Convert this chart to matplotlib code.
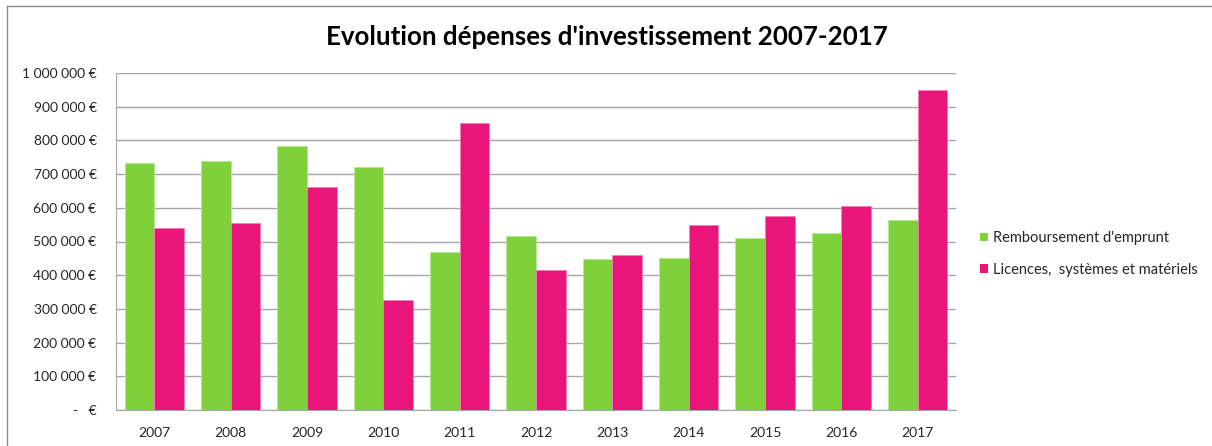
import matplotlib
matplotlib.use("Agg")
import matplotlib.pyplot as plt
import numpy as np
from matplotlib.lines import Line2D
from matplotlib.patches import Patch

years = ["2007", "2008", "2009", "2010", "2011", "2012", "2013", "2014", "2015", "2016", "2017"]
remboursement = [734000, 738000, 782000, 720000, 468000, 515000, 447000, 452000, 509000, 524000, 565000]
licences = [540000, 554000, 661000, 326000, 851000, 415000, 461000, 548000, 575000, 604000, 951000]
series_names = ["Remboursement d'emprunt", "Licences,  systèmes et matériels"]
title = "Evolution dépenses d'investissement 2007-2017"
yticks = [0, 100000, 200000, 300000, 400000, 500000, 600000, 700000, 800000, 900000, 1000000]

GREEN = "#7FD13B"
PINK = "#EA157A"
GRID = "#A6A6A6"
TXT = "#262626"

plt.rcParams['font.family'] = ['Lato', 'DejaVu Sans']

W, H = 1212, 446
fig = plt.figure(figsize=(W / 100, H / 100), dpi=100)

# chart border (left + top visible)
fig.add_artist(Line2D([7 / W, 7 / W], [0, 1 - 6 / H], transform=fig.transFigure, color="#8C8C8C", lw=1))
fig.add_artist(Line2D([7 / W, 1], [1 - 6 / H, 1 - 6 / H], transform=fig.transFigure, color="#8C8C8C", lw=1))

x0, x1 = 116, 956
y0, y1 = 410, 73
ax = fig.add_axes([x0 / W, 1 - y0 / H, (x1 - x0) / W, (y0 - y1) / H])

x = np.arange(len(years))
bw = 0.388
ax.bar(x - bw / 2, remboursement, bw, color=GREEN, edgecolor="#B5E890", linewidth=0.6, zorder=3)
ax.bar(x + bw / 2, licences, bw, color=PINK, edgecolor="#F27FB3", linewidth=0.6, zorder=3)

ax.set_xlim(-0.5, len(years) - 0.5)
ax.set_ylim(0, 1000000)
ax.set_yticks(yticks)


def fmt(v):
    if v == 0:
        return "-   €"
    return "{:,}".format(int(v)).replace(",", " ") + " €"


ax.set_yticklabels([fmt(v) for v in yticks])
ax.set_xticks(x)
ax.set_xticklabels(years)
ax.tick_params(axis='both', length=0, labelsize=10, colors=TXT)
ax.tick_params(axis='y', pad=14)
ax.tick_params(axis='x', pad=12)

ax.grid(axis='y', color=GRID, linewidth=1, zorder=0)
ax.set_axisbelow(True)
for s in ["top", "right"]:
    ax.spines[s].set_visible(False)
ax.spines["left"].set_color(GRID)
ax.spines["bottom"].set_color(GRID)

fig.text(607 / W, 1 - 37 / H, title, ha="center", va="center", fontsize=18.6, fontweight="bold", color="black")

handles = [Patch(facecolor=GREEN, edgecolor="none"), Patch(facecolor=PINK, edgecolor="none")]
leg = fig.legend(handles, series_names, loc="center left", bbox_to_anchor=(967 / W, 1 - 254 / H),
                 frameon=False, fontsize=10.5, handlelength=0.55, handleheight=0.55, handletextpad=0.35,
                 labelspacing=1.2, labelcolor=TXT)

fig.savefig("out.png", dpi=100)
